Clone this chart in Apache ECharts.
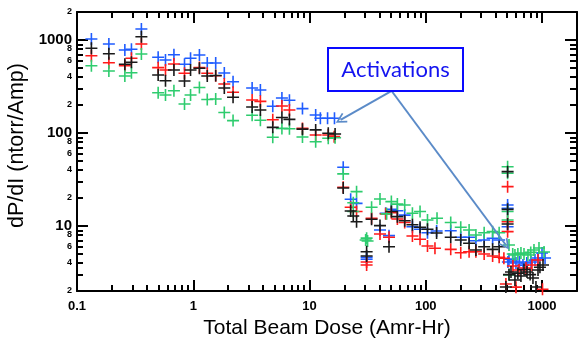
<!DOCTYPE html>
<html>
<head>
<meta charset="utf-8">
<script src="https://cdn.jsdelivr.net/npm/echarts@6/dist/echarts.min.js"></script>
<style>
  html, body { margin: 0; padding: 0; background: #fff; }
  #chart { width: 578px; height: 343px; }
</style>
</head>
<body>
<div id="chart"></div>
<script>
// dose (Amr-Hr) , dP/dI (ntorr/Amp)
const bluePts = [
  [0.133,1025],[0.188,906],[0.258,780],[0.294,794],[0.358,1313],[0.499,652],[0.577,609],[0.682,695],
  [0.841,548],[0.948,636],[1.13,690],[1.32,566],[1.56,566],[1.85,442],[2.2,356],[3.21,305],[3.78,290],
  [4.83,194],[5.79,238],[6.72,225],[8.7,183],[11.3,156],[12.4,144],[14.3,144],[16.4,144],
  [19.5,42.8],[22.6,19.4],[25.4,17.5],[31,4.39],[31,4.6],[40.4,9.06],[45.2,13.7],[48.3,7.87],[50.6,15.1],
  [57,14.6],[65.9,13.1],[76.8,9.83],[89.3,9.22],[103.5,8.47],[124,8.84],[164,8.9],[200,7.56],[236,7.56],
  [270,6.95],[318,7.07],[376,7.38],[428,7.07],[506,16.8],[506,15.5],[506,9.83],[509,4.1],[520,4.4],
  [560,4.2],[597,4.0],[640,4.1],[686,3.8],[740,4.0],[804,4.1],[870,4.3],[924,4.53],[1000,5.13],[1062,4.53]
];
const redPts = [
  [0.133,678],[0.188,570],[0.258,529],[0.294,636],[0.358,906],[0.499,504],[0.577,476],[0.682,552],
  [0.841,439],[1.13,505],[1.32,439],[1.56,413],[1.85,336],[2.2,274],[3.21,226],[3.78,219],[4.83,139],
  [5.79,195],[6.72,177],[8.7,112],[11.3,95],[14.5,95],[16.3,91.3],
  [19.5,26.1],[22.6,15.9],[25.4,14.3],[31,3.81],[31,4.1],[34.2,12.1],[40.4,8.2],[45.2,13.5],[48.3,7.56],
  [50.6,13.9],[57,11.9],[65.9,10.9],[76.8,7.8],[89.3,7.19],[103.5,6.1],[120,5.76],[164,5.61],[200,5.16],
  [236,5.29],[270,5.29],[318,5.0],[376,4.76],[428,4.61],[470,4.5],[506,26.5],[506,11.1],[506,8.69],
  [489,2.38],[562,3.71],[597,2.2],[634,3.37],[728,3.54],[820,3.81],[924,4.31],[1010,2.09]
];
const greenPts = [
  [0.133,529],[0.188,464],[0.258,410],[0.294,445],[0.358,707],[0.499,271],[0.577,256],[0.682,285],
  [0.841,205],[0.948,256],[1.13,308],[1.32,229],[1.56,232],[1.85,166],[2.2,136],[3.21,155],[3.78,137],
  [4.83,90],[5.79,112],[6.72,111],[8.7,90.6],[11.3,80.6],[14.5,87.7],[16.6,89],
  [19.5,36.3],[23.8,17.8],[25.4,23.4],[23.8,14.3],[30.4,7.07],[31.6,6.9],[31,7.4],[34.2,15.9],[40.4,19.5],
  [46.1,13.5],[50.6,18.3],[57,17.2],[65.9,16.8],[76.8,13.7],[89.3,14.3],[103.5,11.6],[125,12.1],[164,10.9],
  [200,9.68],[236,9.06],[270,8.0],[318,8.47],[376,8.69],[428,8.47],[506,43.4],[506,36.9],[506,14.3],
  [506,11.6],[520,6.25],[520,2.97],[560,5.0],[585,4.88],[620,5.0],[659,5.13],[700,5.0],[757,4.88],
  [800,5.2],[853,5.52],[942,5.8],[1041,5.25]
];
const blackPts = [
  [0.133,814],[0.188,712],[0.258,548],[0.294,576],[0.358,1085],[0.499,421],[0.577,365],[0.682,476],
  [0.841,362],[0.948,476],[1.13,496],[1.32,410],[1.56,415],[1.85,305],[2.2,242],[3.21,190],[3.78,177],
  [4.83,115],[5.79,147],[6.72,140],[8.7,110],[11.3,108],[14.5,99.3],[16.6,97.5],
  [19.5,25.6],[22.6,14.5],[23.8,12.8],[25.4,11.1],[31,5.29],[31,4.76],[34.2,11.8],[40.4,10.1],[48.3,5.99],
  [50.6,14.3],[57,12.6],[65.9,11.4],[76.8,10.3],[89.3,9.68],[103.5,9.22],[124,8.41],[164,7.56],[200,7.07],
  [236,6.52],[270,5.52],[318,5.99],[376,5.61],[428,5.99],[506,38.4],[506,15.1],[506,10.5],[489,2.21],
  [520,3.0],[541,3.2],[585,2.63],[620,3.1],[659,2.9],[700,3.4],[743,3.2],[790,3.0],[836,2.76],[887,2.21],
  [924,3.37],[960,3.6],[1020,3.81]
];

const xLabels = [0.1, 1, 10, 100, 1000];
const yMajor = [10, 100, 1000];
const yLabels = [2, 4, 6, 8, 10, 20, 40, 60, 80, 100, 200, 400, 600, 800, 1000, 2000];

// arrow ends for the "Activations" callout
const calloutFrom = [50.9, 283];
const calloutTo1 = [18.5, 138];
const calloutTo2 = [489, 6.25];

function minorTicks(e0, e1) {
  const out = [];
  for (let e = e0; e <= e1; e++) {
    for (let m = 2; m <= 9; m++) out.push(+(m * Math.pow(10, e)).toPrecision(3));
  }
  out.push(2000);
  return out;
}
const xMinor = minorTicks(-1, 2);
const yMinor = minorTicks(0, 2);

const font = '"Liberation Sans", Arial, sans-serif';
const plus = 'path://M5.2,0L6.8,0L6.8,5.2L12,5.2L12,6.8L6.8,6.8L6.8,12L5.2,12L5.2,6.8L0,6.8L0,5.2L5.2,5.2Z';
const openArrow = 'path://M5,0L10,9L8.6,9.8L5,3.2L1.4,9.8L0,9Z';

function xAx(position, ticks, len, main) {
  return {
    type: 'log', logBase: 10, position, min: 0.1, max: 2000,
    axisLine: { show: main, onZero: false, lineStyle: { color: '#000', width: 2 } },
    axisTick: { show: true, inside: true, length: len, customValues: ticks,
      lineStyle: { color: '#000', width: 2 } },
    axisLabel: {
      show: main && position === 'bottom', customValues: xLabels, margin: 9,
      color: '#000', fontFamily: font, fontWeight: 'bold', fontSize: 13,
      formatter: v => { const n = +v; return n < 1 ? n.toFixed(1) : String(Math.round(n)); }
    },
    splitLine: { show: false }
  };
}
function yAx(position, ticks, len, main) {
  return {
    type: 'log', logBase: 10, position, min: 2, max: 2000,
    axisLine: { show: main, onZero: false, lineStyle: { color: '#000', width: 2 } },
    axisTick: { show: true, inside: true, length: len, customValues: ticks,
      lineStyle: { color: '#000', width: 2 } },
    axisLabel: {
      show: main && position === 'left', customValues: yLabels, margin: 5,
      color: '#000', fontFamily: font, fontWeight: 'bold',
      formatter: v => {
        const n = +v;
        const e = Math.floor(Math.log10(n) + 1e-9);
        const m = Math.round(n / Math.pow(10, e));
        return m === 1 ? '{big|' + Math.round(n) + '}' : '{small|' + m + '}';
      },
      rich: {
        big: { fontSize: 15, fontWeight: 'bold', fontFamily: font, color: '#000' },
        small: { fontSize: 9, fontWeight: 'bold', fontFamily: font, color: '#000' }
      }
    },
    splitLine: { show: false }
  };
}

const xAxes = [
  xAx('bottom', xLabels, 11, true), xAx('bottom', xMinor, 6, false),
  xAx('top', xLabels, 11, true), xAx('top', xMinor, 6, false)
];
Object.assign(xAxes[0], {
  name: 'Total Beam Dose (Amr-Hr)', nameLocation: 'middle', nameGap: 19,
  nameTextStyle: { fontFamily: font, fontSize: 21, color: '#000' }
});
const yAxes = [
  yAx('left', yMajor, 11, true), yAx('left', yMinor, 6, false),
  yAx('right', yMajor, 12, true), yAx('right', yMinor, 7, false)
];
Object.assign(yAxes[0], {
  name: 'dP/dI (ntorr/Amp)', nameLocation: 'middle', nameGap: 42,
  nameTextStyle: { fontFamily: font, fontSize: 21.5, color: '#000', padding: [0, 0, 0, 12] }
});

function scatter(name, pts, color) {
  return {
    name, type: 'scatter', data: pts, xAxisIndex: 0, yAxisIndex: 0,
    symbol: plus, symbolSize: 12, itemStyle: { color, opacity: 1 },
    emphasis: { disabled: true }
  };
}

const series = [
  scatter('blue', bluePts, '#1f5cff'),
  scatter('red', redPts, '#ff1a1a'),
  scatter('green', greenPts, '#2ecc6e'),
  scatter('black', blackPts, '#1a1a1a')
];
series[0].markLine = {
  silent: true, animation: false,
  symbol: ['none', openArrow], symbolSize: 11,
  label: { show: false },
  lineStyle: { color: '#5b8bc8', width: 2, type: 'solid' },
  data: [
    [{ coord: calloutFrom }, { coord: calloutTo1 }],
    [{ coord: calloutFrom }, { coord: calloutTo2 }]
  ]
};

const chart = echarts.init(document.getElementById('chart'), null, { renderer: 'canvas' });
chart.setOption({
  animation: false,
  backgroundColor: '#fff',
  grid: { left: 77, right: 1, top: 12, bottom: 52, containLabel: false, outerBoundsMode: 'none' },
  xAxis: xAxes,
  yAxis: yAxes,
  series,
  graphic: [
    { type: 'rect', z: 100, shape: { x: 328, y: 48, width: 135, height: 43 },
      style: { fill: '#fff', stroke: '#0a0aff', lineWidth: 2 } },
    { type: 'text', z: 101, x: 395.5, y: 70,
      style: { text: 'Activations', fill: '#1414f0', font: '22px Lato, sans-serif',
        align: 'center', verticalAlign: 'middle', textAlign: 'center', textVerticalAlign: 'middle' } }
  ]
});
</script>
</body>
</html>
